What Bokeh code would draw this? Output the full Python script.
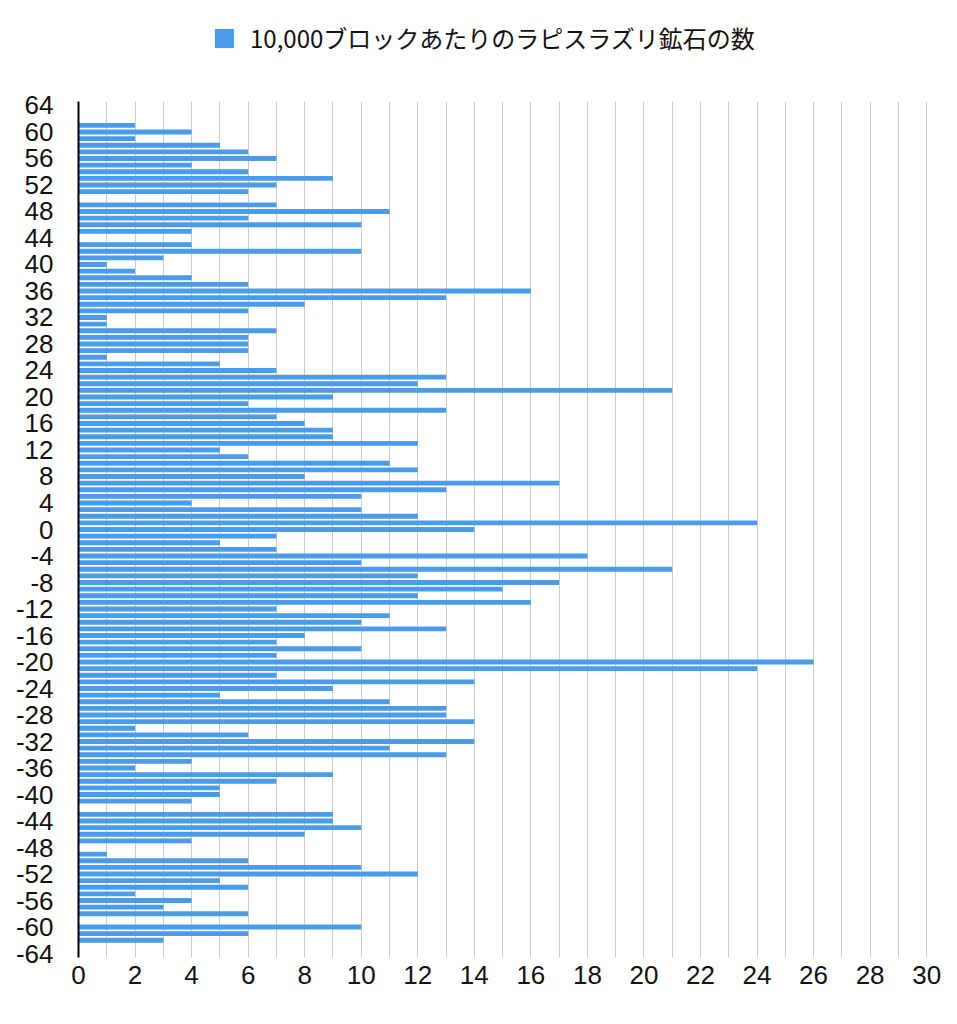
from bokeh.plotting import figure
from bokeh.layouts import column
from bokeh.models import FixedTicker, Legend, LegendItem, Range1d, ColumnDataSource
from bokeh.embed import file_html
from bokeh.resources import INLINE

# Y levels (block height) and lapis ore count per 10,000 blocks
levels = [61, 60, 59, 58, 57, 56, 55, 54, 53, 52, 51, 50, 49, 48, 47, 46, 45, 44, 43, 42,
          41, 40, 39, 38, 37, 36, 35, 34, 33, 32, 31, 30, 29, 28, 27, 26, 25, 24, 23, 22,
          21, 20, 19, 18, 17, 16, 15, 14, 13, 12, 11, 10, 9, 8, 7, 6, 5, 4, 3, 2,
          1, 0, -1, -2, -3, -4, -5, -6, -7, -8, -9, -10, -11, -12, -13, -14, -15, -16, -17, -18,
          -19, -20, -21, -22, -23, -24, -25, -26, -27, -28, -29, -30, -31, -32, -33, -34, -35, -36, -37, -38,
          -39, -40, -41, -42, -43, -44, -45, -46, -47, -48, -49, -50, -51, -52, -53, -54, -55, -56, -57, -58,
          -59, -60, -61, -62]
counts = [2, 4, 2, 5, 6, 7, 4, 6, 9, 7, 6, 0, 7, 11, 6, 10, 4, 0, 4, 10,
          3, 1, 2, 4, 6, 16, 13, 8, 6, 1, 1, 7, 6, 6, 6, 1, 5, 7, 13, 12,
          21, 9, 6, 13, 7, 8, 9, 9, 12, 5, 6, 11, 12, 8, 17, 13, 10, 4, 10, 12,
          24, 14, 7, 5, 7, 18, 10, 21, 12, 17, 15, 12, 16, 7, 11, 10, 13, 8, 7, 10,
          7, 26, 24, 7, 14, 9, 5, 11, 13, 13, 14, 2, 6, 14, 11, 13, 4, 2, 9, 7,
          5, 5, 4, 0, 9, 9, 10, 8, 4, 0, 1, 6, 10, 12, 5, 6, 2, 4, 3, 6,
          0, 10, 6, 3]

series_name = "10,000ブロックあたりのラピスラズリ鉱石の数"
y_ticks = [64, 60, 56, 52, 48, 44, 40, 36, 32, 28, 24, 20, 16, 12, 8, 4, 0,
           -4, -8, -12, -16, -20, -24, -28, -32, -36, -40, -44, -48, -52, -56, -60, -64]
x_ticks = [0, 2, 4, 6, 8, 10, 12, 14, 16, 18, 20, 22, 24, 26, 28, 30]
x_grid = [1, 2, 3, 4, 5, 6, 7, 8, 9, 10, 11, 12, 13, 14, 15, 16, 17, 18, 19, 20,
          21, 22, 23, 24, 25, 26, 27, 28, 29, 30]

BAR_COLOR = "#4A9BE9"
source = ColumnDataSource(data=dict(y=levels, right=counts))

# ---- main chart ----
p = figure(frame_width=851, frame_height=856,
           x_range=Range1d(0, 30.1), y_range=Range1d(-64.6, 64.6),
           output_backend="svg", toolbar_location=None,
           min_border_left=78, min_border_top=15, min_border_right=20,
           min_border_bottom=50, outline_line_color=None)

bars = p.hbar(y="y", right="right", left=0, height=0.74, source=source,
              fill_color=BAR_COLOR, line_color=None)

p.ygrid.visible = False
p.xgrid.ticker = FixedTicker(ticks=x_grid)
p.xgrid.grid_line_color = "#cccccc"
p.xgrid.grid_line_width = 1

tick_font = "Liberation Sans"
p.xaxis.ticker = FixedTicker(ticks=x_ticks)
p.yaxis.ticker = FixedTicker(ticks=y_ticks)
p.yaxis.major_label_overrides = {t: str(t) for t in y_ticks}
for ax in (p.xaxis[0], p.yaxis[0]):
    ax.major_tick_line_color = None
    ax.minor_tick_line_color = None
    ax.major_tick_in = 0
    ax.major_tick_out = 0
    ax.minor_tick_out = 0
    ax.major_label_text_font = tick_font
    ax.major_label_text_font_size = "26px"
    ax.major_label_text_color = "#111111"
p.xaxis.axis_line_color = None
p.xaxis.major_label_standoff = 8
p.yaxis.axis_line_color = "black"
p.yaxis.axis_line_width = 2
p.yaxis.major_label_standoff = 25

# ---- legend strip on top (same data source, bars kept out of view) ----
lf = figure(width=949, height=86, x_range=Range1d(0, 30), y_range=Range1d(1000, 1001),
            x_axis_type=None, y_axis_type=None, output_backend="svg",
            toolbar_location=None, min_border=0, outline_line_color=None)
lf.grid.visible = False
lbars = lf.hbar(y="y", right="right", left=0, height=0.74, source=source,
                fill_color=BAR_COLOR, line_color=None)
legend = Legend(items=[LegendItem(label=series_name, renderers=[lbars])],
                location=(134, 31), orientation="horizontal",
                padding=0, margin=0, glyph_width=24, glyph_height=24,
                label_standoff=14, label_height=24,
                label_text_font="Noto Sans CJK JP", label_text_font_size="24px",
                label_text_color="#111111",
                border_line_color=None, background_fill_alpha=0)
lf.add_layout(legend, "center")

layout = column(lf, p, spacing=0)
open("out.html", "w").write(file_html(layout, INLINE))
